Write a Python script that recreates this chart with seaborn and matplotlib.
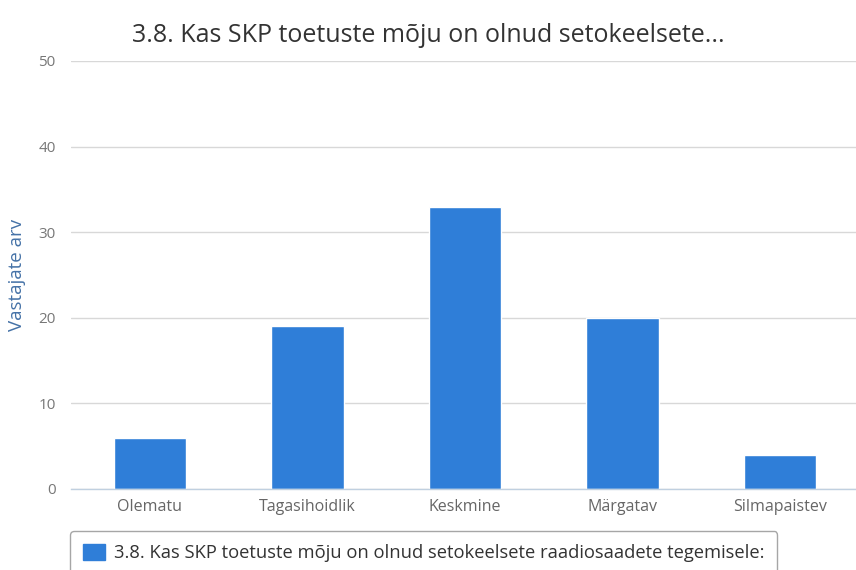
import matplotlib
matplotlib.use("Agg")
import matplotlib.pyplot as plt
import seaborn as sns
import pandas as pd
from matplotlib.patches import Patch

# Data
categories = ['Olematu', 'Tagasihoidlik', 'Keskmine', 'Märgatav', 'Silmapaistev']
counts = [6, 19, 33, 20, 4]
series_name = '3.8. Kas SKP toetuste mõju on olnud setokeelsete raadiosaadete tegemisele:'
title = '3.8. Kas SKP toetuste mõju on olnud setokeelsete...'
y_ticks = [0, 10, 20, 30, 40, 50]

df = pd.DataFrame({'Kategooria': categories, 'Vastajad': counts})

sns.set_style('white')
plt.rcParams['font.family'] = ['Open Sans', 'DejaVu Sans']

bar_color = '#2F7ED8'

fig = plt.figure(figsize=(8.56, 5.70), dpi=100)
ax = fig.add_axes([71 / 856, 1 - 489 / 570, 788 / 856, (489 - 61) / 570])

sns.barplot(data=df, x='Kategooria', y='Vastajad', color=bar_color,
            saturation=1, width=0.46, ax=ax)

ax.set_xlim(-0.5, len(categories) - 0.5)
ax.set_ylim(0, 50)
ax.set_yticks(y_ticks)
ax.yaxis.grid(True, color='#D8D8D8', linewidth=1)
ax.set_axisbelow(True)

for side in ['top', 'right', 'left']:
    ax.spines[side].set_visible(False)
ax.spines['bottom'].set_color('#C0D0E0')
ax.spines['bottom'].set_linewidth(1)

ax.tick_params(axis='x', which='major', length=0, labelsize=11.5, colors='#666666', pad=7)
ax.set_xticks([i - 0.5 for i in range(len(categories) + 1)], minor=True)
ax.tick_params(axis='x', which='minor', length=5, color='#C0D0E0', width=1)
ax.tick_params(axis='y', length=0, labelsize=11, colors='#777777', pad=11)

ax.set_xlabel('')
ax.set_ylabel('Vastajate arv', color='#4572A7', fontsize=13.5, labelpad=9)

fig.text(428 / 856, 1 - 35 / 570, title, ha='center', va='center',
         fontsize=18, color='#333333')

handle = Patch(facecolor=bar_color, edgecolor=bar_color)
leg = fig.legend([handle], [series_name], loc='upper left',
                 bbox_to_anchor=(70 / 856, 1 - 531 / 570), borderaxespad=0,
                 frameon=True, fancybox=True, fontsize=13.2, handlelength=1.2,
                 handleheight=1.0, handletextpad=0.5, borderpad=0.7)
frame = leg.get_frame()
frame.set_edgecolor('#909090')
frame.set_linewidth(1)
for t in leg.get_texts():
    t.set_color('#333333')

fig.savefig('out.png', dpi=100)
